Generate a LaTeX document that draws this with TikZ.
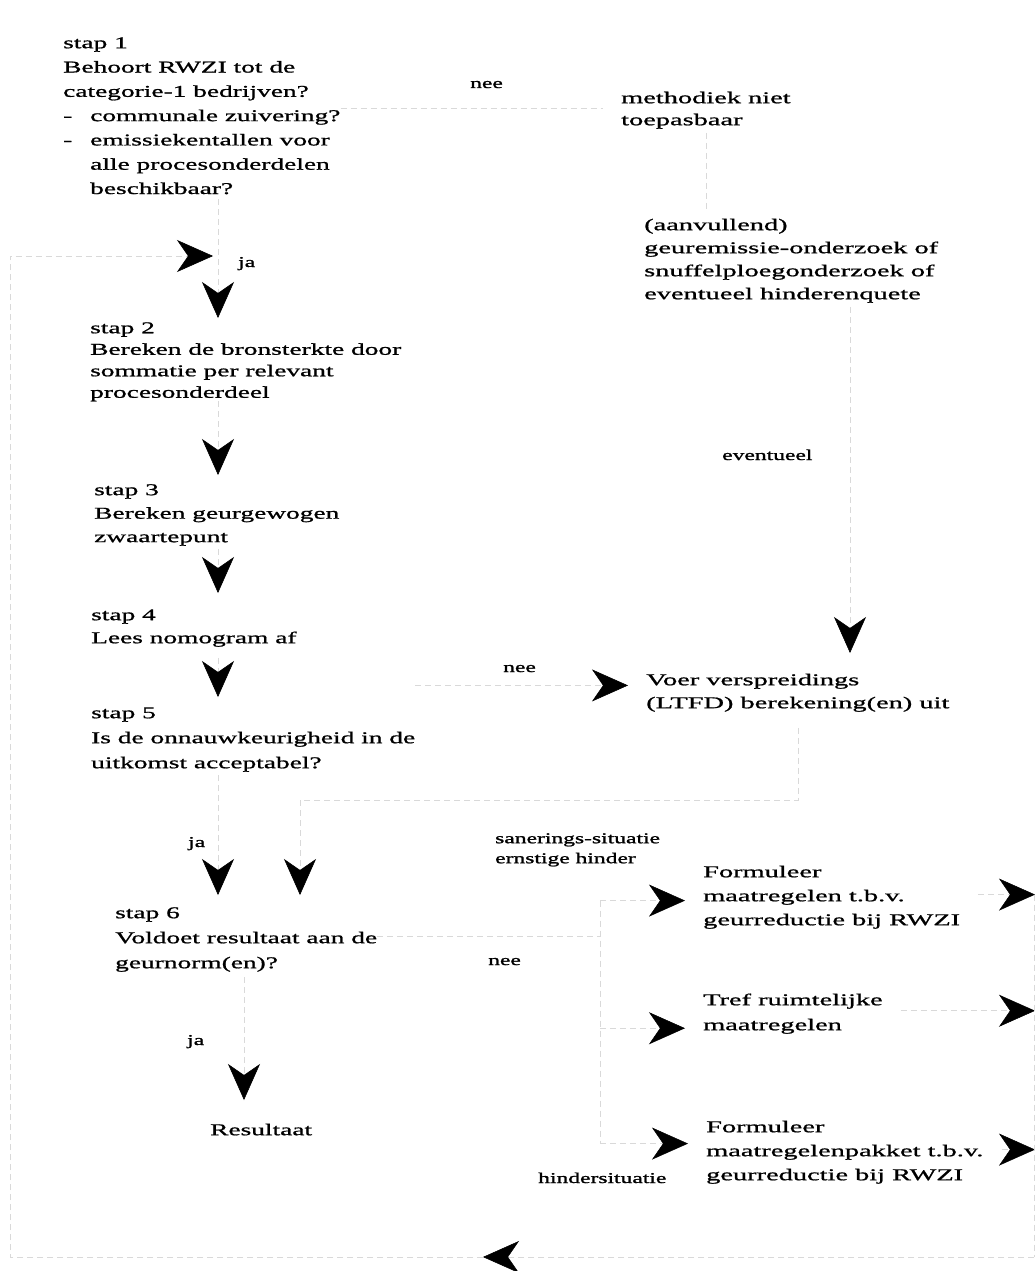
\documentclass[tikz,border=0pt]{standalone}
\usepackage{fontspec}
\setmainfont{Liberation Serif}
\newfontfamily\leftf{Liberation Serif}[FakeStretch=1.66,FakeBold=1.0]
\newfontfamily\rightf{Liberation Serif}[FakeStretch=1.72,FakeBold=1.0]
\newfontfamily\lblf{Liberation Serif}[FakeStretch=1.57,FakeBold=1.4]
\usetikzlibrary{arrows.meta}
\newcommand{\lsz}[1]{\leftf\fontsize{16.5}{#1}\selectfont}
\newcommand{\rsz}[1]{\rightf\fontsize{16.5}{#1}\selectfont}
\tikzset{
  lnode/.style={anchor=north west, inner xsep=0pt, align=left},
  rnode/.style={anchor=north west, inner xsep=18pt, inner ysep=4pt, align=left},
  lbl/.style={anchor=base west, inner sep=0pt, font=\lblf\fontsize{15}{20}\selectfont},
  lbltwo/.style={anchor=north west, inner sep=0pt, align=left, font=\lblf\fontsize{15}{20}\selectfont},
  tipstyle/.style={-{Stealth[length=36pt,width=32pt,inset=11pt,color=black,fill=black]}},
  faint/.style={draw=black!15, line width=0.5pt, dash pattern=on 6pt off 4pt},
  conn/.style={faint, tipstyle},
}
\begin{document}
\begin{tikzpicture}[x=1pt,y=-1pt]
\fill[white] (0,0) rectangle (1035,1271);
\useasboundingbox (0,0) rectangle (1035,1271);

% left column
\node[lnode, inner ysep=5pt, font=\lsz{24.3}] (stap1) at (63,26) {\strut stap 1\\Behoort RWZI tot de\\categorie-1 bedrijven?\\-\hspace{17.9pt}communale zuivering?\\-\hspace{17.9pt}emissiekentallen voor\\\hspace{27pt}alle procesonderdelen\\\hspace{27pt}beschikbaar?};
\node[lnode, inner ysep=0pt, font=\lsz{21.5}] (stap2) at (90,318) {\strut stap 2\\Bereken de bronsterkte door\\sommatie per relevant\\procesonderdeel};
\node[lnode, inner ysep=3.5pt, font=\lsz{23.5}] (stap3) at (94,475) {\strut stap 3\\Bereken geurgewogen\\zwaartepunt};
\node[lnode, inner ysep=10.9pt, font=\lsz{23}] (stap4) at (91,593) {\strut stap 4\\Lees nomogram af};
\node[lnode, inner ysep=3.5pt, font=\lsz{25}] (stap5) at (91,697) {\strut stap 5\\Is de onnauwkeurigheid in de\\uitkomst acceptabel?};
\node[lnode, inner ysep=5.5pt, font=\lsz{25}] (stap6) at (115,895) {\strut stap 6\\Voldoet resultaat aan de\\geurnorm(en)?};
\node[lnode, inner ysep=19.6pt, font=\lsz{22}] (res) at (210,1100) {\strut Resultaat};

% right column
\node[rnode, font=\rsz{22}] (meth) at (603,83.6) {\strut methodiek niet\\toepasbaar};
\node[rnode, font=\rsz{23}] (aanv) at (626,209.9) {\strut (aanvullend)\\geuremissie-onderzoek of\\snuffelploegonderzoek of\\eventueel hinderenquete};
\node[rnode, inner ysep=15.9pt, font=\rsz{23}] (ltfd) at (628,653) {\strut Voer verspreidings\\(LTFD) berekening(en) uit};
\node[rnode, font=\rsz{24}] (f1) at (685,856.2) {\strut Formuleer\\maatregelen t.b.v.\\geurreductie bij RWZI};
\node[rnode, font=\rsz{25}] (tref) at (685,983.5) {\strut Tref ruimtelijke\\maatregelen};
\node[rnode, font=\rsz{24}] (f2) at (688,1111.2) {\strut Formuleer\\maatregelenpakket t.b.v.\\geurreductie bij RWZI};

% labels
\node[lbl] (nee1) at (470,88) {nee};
\node[lbl] (ja1) at (238,267) {ja};
\node[lbl] (ev) at (722,460) {eventueel};
\node[lbl] (nee2) at (503,672) {nee};
\node[lbl] (ja2) at (188,847) {ja};
\node[lbltwo] (san) at (495,829) {\strut sanerings-situatie\\ernstige hinder};
\node[lbl] (nee3) at (488,965) {nee};
\node[lbl] (ja3) at (187,1045) {ja};
\node[lbl] (hind) at (538,1183) {hindersituatie};

% helper coordinates
\coordinate (cA) at (218,0);
\coordinate (cC) at (300,800);
\coordinate (cD) at (244,0);
\coordinate (cR) at (850,0);
\coordinate (jn) at (600,0);
\coordinate (re) at (1035,0);
\coordinate (lp0) at (1034,1257);
\coordinate (lp1) at (483,1257);
\coordinate (lp2) at (10,1257);
\coordinate (lp3) at (10,256);
\coordinate (lp4) at (213,256);
\coordinate (ltfdin) at ([yshift=5pt]ltfd.west);
\coordinate (f1in) at ([yshift=-6pt]f1.west);
\coordinate (trefin) at ([yshift=-17.5pt]tref.west);
\coordinate (f2in) at ([yshift=6pt]f2.west);

% connectors
\draw[faint] (stap1.east |- meth.west) -- (meth.west);
\draw[faint] (meth.south) -- (meth.south |- aanv.north);
\draw[conn] (aanv.south -| cR) -- (ltfd.north -| cR);
\draw[conn] (stap1.south -| cA) -- (stap2.north -| cA);
\draw[conn] (stap2.south -| cA) -- (stap3.north -| cA);
\draw[conn] (stap3.south -| cA) -- (stap4.north -| cA);
\draw[conn] (stap4.south -| cA) -- (stap5.north -| cA);
\draw[conn] (ltfdin -| stap5.east) -- (ltfdin);
\draw[conn] (stap5.south -| cA) -- (stap6.north -| cA);
\draw[conn] (ltfd.south) |- (cC) -- (stap6.north -| cC);
\draw[faint] (stap6.east) -- (stap6.east -| jn);
\draw[faint] (f1in -| jn) -- (f2in -| jn);
\draw[conn] (f1in -| jn) -- (f1in);
\draw[conn] (trefin -| jn) -- (trefin);
\draw[conn] (f2in -| jn) -- (f2in);
\draw[conn] (f1.east) -- (f1.east -| re);
\draw[conn] (tref.east) -- (tref.east -| re);
\draw[conn] (f2.east) -- (f2.east -| re);
\draw[faint] (f1.east -| lp0) -- (lp0);
\draw[conn] (lp0) -- (lp1);
\draw[conn] (lp1) -- (lp2) -- (lp3) -- (lp4);
\draw[conn] (stap6.south -| cD) -- (res.north -| cD);
\end{tikzpicture}
\end{document}
